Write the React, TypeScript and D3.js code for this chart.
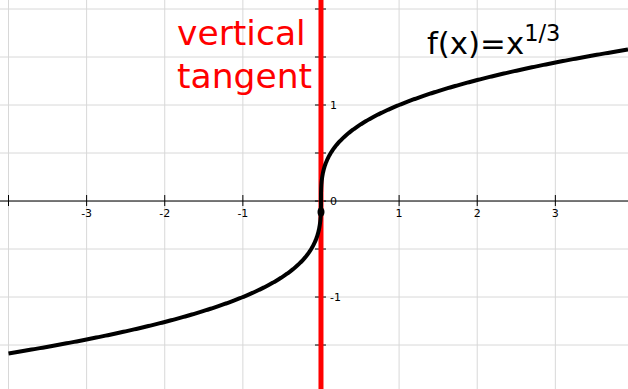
import React from "react";
import * as d3 from "d3";

const W = 628;
const H = 389;
const xDomain = [-4, 3.93];
const yDomain = [-1.958, 2];
const xTicks = [-4, -3, -2, -1, 0, 1, 2, 3];
const xTickLabels = ["", "-3", "-2", "-1", "", "1", "2", "3"];
const yTicks = [-1.5, -1, -0.5, 0, 0.5, 1, 1.5, 2];
const yTickLabels = ["", "-1", "", "0", "", "1", "", ""];
const markers = [{ x: 0, y: -0.115 }];
const f = (x: number) => Math.cbrt(x);
const titleMain = "f(x)=x";
const titleSup = "1/3";
const noteLines = ["vertical", "tangent"];

export default function App() {
  const x = d3.scaleLinear().domain(xDomain).range([8.5, 628]);
  const y = d3.scaleLinear().domain(yDomain).range([389, 9]);

  const ys = d3.range(f(xDomain[0]), f(xDomain[1]) + 1e-9, 0.005);
  const pts: [number, number][] = ys.map((v) => [v * v * v, v]);
  pts.push([xDomain[1], f(xDomain[1])]);
  const line = d3
    .line<[number, number]>()
    .x((d) => x(d[0]))
    .y((d) => y(d[1]));

  const gridColor = "#d8d8d8";
  const font = "DejaVu Sans, sans-serif";

  return (
    <svg
      width={W}
      height={H}
      style={{ position: "absolute", left: 0, top: 0, background: "#fff" }}
    >
      {xTicks.map((t) => (
        <line key={"gx" + t} x1={x(t)} x2={x(t)} y1={0} y2={H} stroke={gridColor} strokeWidth={1} />
      ))}
      {yTicks.map((t) => (
        <line key={"gy" + t} x1={0} x2={W} y1={y(t)} y2={y(t)} stroke={gridColor} strokeWidth={1} />
      ))}
      <line x1={0} x2={W} y1={y(0)} y2={y(0)} stroke="#000" strokeWidth={1} />
      {xTicks.map((t, i) => (
        <g key={"xt" + t}>
          <line x1={x(t)} x2={x(t)} y1={y(0) - 6} y2={y(0) + 5} stroke="#000" strokeWidth={1} />
          {xTickLabels[i] && (
            <text x={x(t)} y={y(0) + 16} fontSize={11} fontFamily={font} textAnchor="middle" fill="#000">
              {xTickLabels[i]}
            </text>
          )}
        </g>
      ))}
      <line x1={x(0)} x2={x(0)} y1={0} y2={H} stroke="#000" strokeWidth={1} />
      {yTicks.map((t, i) => (
        <g key={"yt" + t}>
          <line x1={x(0) - 6} x2={x(0) + 5} y1={y(t)} y2={y(t)} stroke="#000" strokeWidth={1} />
          {yTickLabels[i] && (
            <text x={x(0) + 9} y={y(t) + 4} fontSize={11} fontFamily={font} fill="#000">
              {yTickLabels[i]}
            </text>
          )}
        </g>
      ))}
      <line x1={x(0)} x2={x(0)} y1={0} y2={H} stroke="#ff0000" strokeWidth={5} />
      <path d={line(pts) || ""} fill="none" stroke="#000" strokeWidth={4} strokeLinejoin="round" />
      {markers.map((m, i) => (
        <ellipse key={"m" + i} cx={x(m.x)} cy={y(m.y)} rx={3.5} ry={5} fill="#000" />
      ))}
      {noteLines.map((s, i) => (
        <text key={s} x={177} y={45 + i * 43} fontSize={34.5} fontFamily={font} fill="#ff0000">
          {s}
        </text>
      ))}
      <text x={427} y={54} fontSize={30.8} fontFamily={font} fill="#000">
        {titleMain}
        <tspan dy={-13} fontSize={22.5}>
          {titleSup}
        </tspan>
      </text>
    </svg>
  );
}
